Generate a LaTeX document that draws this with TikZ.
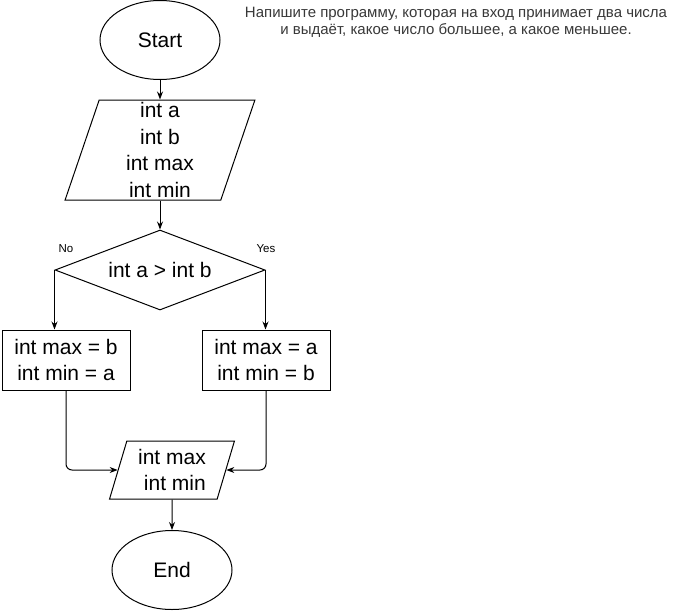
\documentclass[tikz,border=0pt]{standalone}
\usepackage{fontspec}
\setmainfont{Liberation Sans}
\usetikzlibrary{shapes.geometric,arrows.meta}
\begin{document}
\begin{tikzpicture}[x=1pt,y=-1pt,
  every node/.style={font=\fontsize{21}{26.5}\selectfont, align=center, inner sep=0pt},
  term/.style={draw, line width=1pt, ellipse, minimum width=120pt, minimum height=79pt},
  io/.style={draw, line width=1pt, trapezium, trapezium stretches=true},
  proc/.style={draw, line width=1pt, minimum width=128pt, minimum height=60pt},
  dec/.style={draw, line width=1pt, diamond, minimum width=210pt, minimum height=80pt, aspect=2.625},
  conn/.style={line width=1pt, -{Stealth[length=8pt,width=6pt]}},
  small/.style={font=\fontsize{11.5}{13}\selectfont},
  note/.style={font=\fontsize{15}{17}\selectfont, text=black!78}]
\useasboundingbox (0,0) rectangle (681,611);
\node[term] (start) at (160,40) {Start};
\node[io, trapezium left angle=78.7, trapezium right angle=101.3, minimum width=190pt, minimum height=100pt] (in) at (160,150) {int a\\int b\\int max\\int min};
\node[dec] (cond) at (160,270) {int a > int b};
\node[small] (no) at (66,249) {No};
\node[small] (yes) at (266,249) {Yes};
\node[proc] (lbox) at (66,360) {int max = b\\int min = a};
\node[proc] (rbox) at (266,360) {int max = a\\int min = b};
\node[io, trapezium left angle=72.8, trapezium right angle=107.2, minimum width=126pt, minimum height=58pt] (out) at (172,470) {int max\\\ int min};
\node[term] (end) at (172,570) {End};
\node[note] (task) at (456,22.5) {Напишите программу, которая на вход принимает два числа\\и выдаёт, какое число большее, а какое меньшее.};
\draw[conn] (start) -- (start.south |- in.north);
\draw[conn] (in.south -| cond.north) -- (cond.north);
\draw[conn] (cond.west) -- (cond.west |- lbox.north);
\draw[conn] (cond.east) -- (cond.east |- rbox.north);
\draw[conn, rounded corners=6pt] (lbox.south) |- (out.west);
\draw[conn, rounded corners=6pt] (rbox.south) |- (out.east);
\draw[conn] (out.south) -- (end.north);
\end{tikzpicture}
\end{document}
